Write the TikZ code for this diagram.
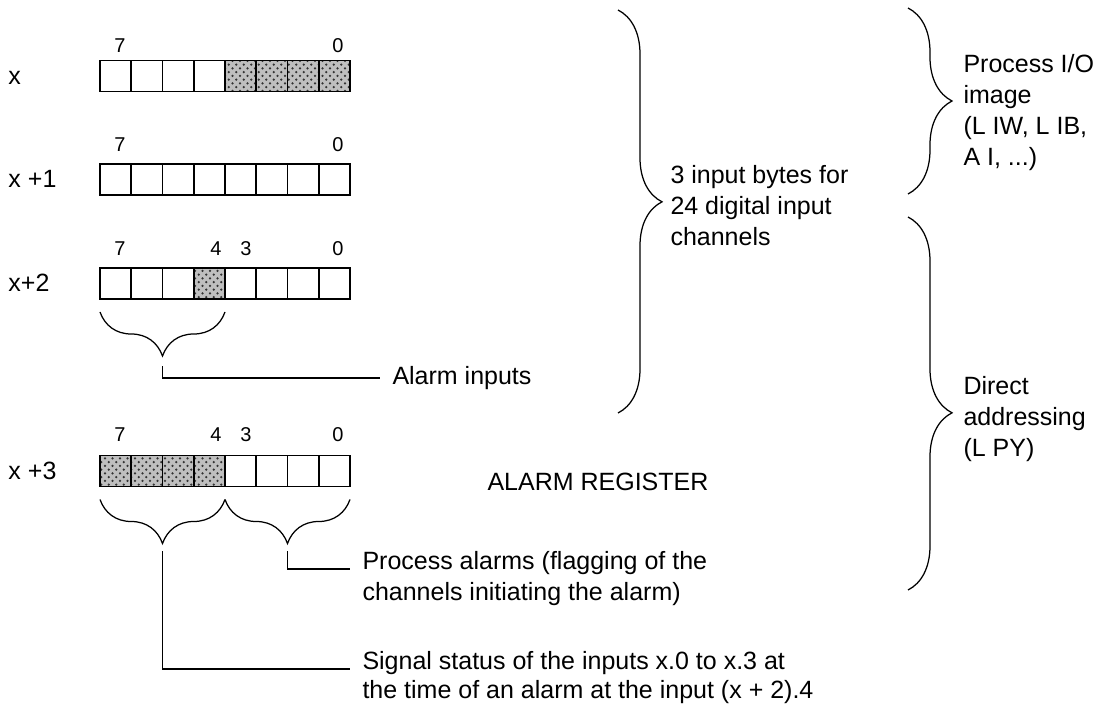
\documentclass[tikz,border=0pt]{standalone}
\usepackage{fontspec}
\setmainfont{Liberation Sans}
\usetikzlibrary{decorations.pathreplacing,patterns}

\begin{document}
\begin{tikzpicture}[x=0.4pt,y=-0.4pt,
  cell/.style={draw,line width=0.75pt,minimum width=12.5pt,minimum height=12.4pt,inner sep=0pt,outer sep=0pt},
  shcell/.style={cell,preaction={fill=black!25},pattern=crosshatch dots,pattern color=black!80},
  bitno/.style={font=\fontsize{8}{9}\selectfont,anchor=base,inner sep=0pt},
  rowlbl/.style={font=\fontsize{10}{12}\selectfont,anchor=base west,inner sep=0pt},
  txt/.style={font=\fontsize{10}{12.4}\selectfont,align=left,inner sep=0pt},
  brc/.style={decorate,line width=0.5pt,decoration={brace,amplitude=17.6pt,#1}},
  brc/.default={},
  lead/.style={line width=0.5pt}
]
\useasboundingbox (0,0) rectangle (1102,706);

% the four bytes
\foreach \r/\yy in {0/76,1/179.5,2/283.5,3/471}
  \foreach \i in {1,...,8}
    \node[cell] (c\r-\i) at ({84.375+31.25*\i},\yy) {};
\foreach \c in {c0-5,c0-6,c0-7,c0-8,c2-4,c3-1,c3-2,c3-3,c3-4}
  \node[shcell] at (\c) {};

\foreach \r/\b in {0/53,1/152,2/256,3/442}{
  \node[bitno] (h\r-7) at (120,\b) {7};
  \node[bitno] (h\r-0) at (338,\b) {0};
}
\foreach \r/\b in {2/256,3/442}{
  \node[bitno] (h\r-4) at (216,\b) {4};
  \node[bitno] (h\r-3) at (246,\b) {3};
}

\node[rowlbl] (rx0) at (8,85) {x};
\node[rowlbl] (rx1) at (8,188) {x +1};
\node[rowlbl] (rx2) at (8,292) {x+2};
\node[rowlbl] (rx3) at (8,479) {x +3};

% braces under x+2 and x+3
\draw[brc=mirror] ([yshift=-5.2pt]c2-1.south west) -- ([yshift=-5.2pt]c2-4.south east);
\draw[brc=mirror] ([yshift=-5.2pt]c3-1.south west) -- ([yshift=-5.2pt]c3-4.south east);
\draw[brc=mirror] ([yshift=-5.2pt]c3-5.south west) -- ([yshift=-5.2pt]c3-8.south east);
\coordinate (alarmtip) at ([yshift=-22.8pt]c2-2.south east);
\coordinate (sigtip) at ([yshift=-22.8pt]c3-2.south east);
\coordinate (proctip) at ([yshift=-22.8pt]c3-6.south east);

\node[txt,anchor=west,inner xsep=4.8pt] (alarmin) at (380,378) {Alarm inputs};
\node[txt] (areg) at (598,482) {ALARM REGISTER};
\node[txt,anchor=north west,inner xsep=4.8pt] (palarm) at (350,551)
  {Process alarms (flagging of the\\channels initiating the alarm)};
\node[txt,anchor=north west,inner xsep=4.8pt,font=\fontsize{10}{11.6}\selectfont] (sigstat) at (350,651)
  {Signal status of the inputs x.0 to x.3 at\\the time of an alarm at the input (x + 2).4};

\draw[lead] ([yshift=-4pt]alarmtip) |- (alarmin.west);
\draw[lead] ([yshift=-3pt]proctip) |- ([yshift=-7.2pt]palarm.north west);
\draw[lead] ([yshift=-3pt]sigtip) |- ([yshift=-7.2pt]sigstat.north west);

% braces on the right
\coordinate (inA) at (618,10);
\coordinate (inB) at (618,413);
\coordinate (piA) at (908,8);
\coordinate (piB) at (908,194);
\coordinate (daA) at (908,217);
\coordinate (daB) at (908,590);
\draw[brc={aspect=0.476}] (inA) -- (inB);
\draw[brc={aspect=0.5}] (piA) -- (piB);
\draw[brc={aspect=0.525}] (daA) -- (daB);

\node[txt,anchor=north west] (inbytes) at (670,165)
  {3 input bytes for\\24 digital input\\channels};
\node[txt,anchor=north west] (pimage) at (963,54)
  {Process I/O\\image\\(L IW, L IB,\\A I, ...)};
\node[txt,anchor=north west] (daddr) at (963,376)
  {Direct\\addressing\\(L PY)};
\end{tikzpicture}
\end{document}
